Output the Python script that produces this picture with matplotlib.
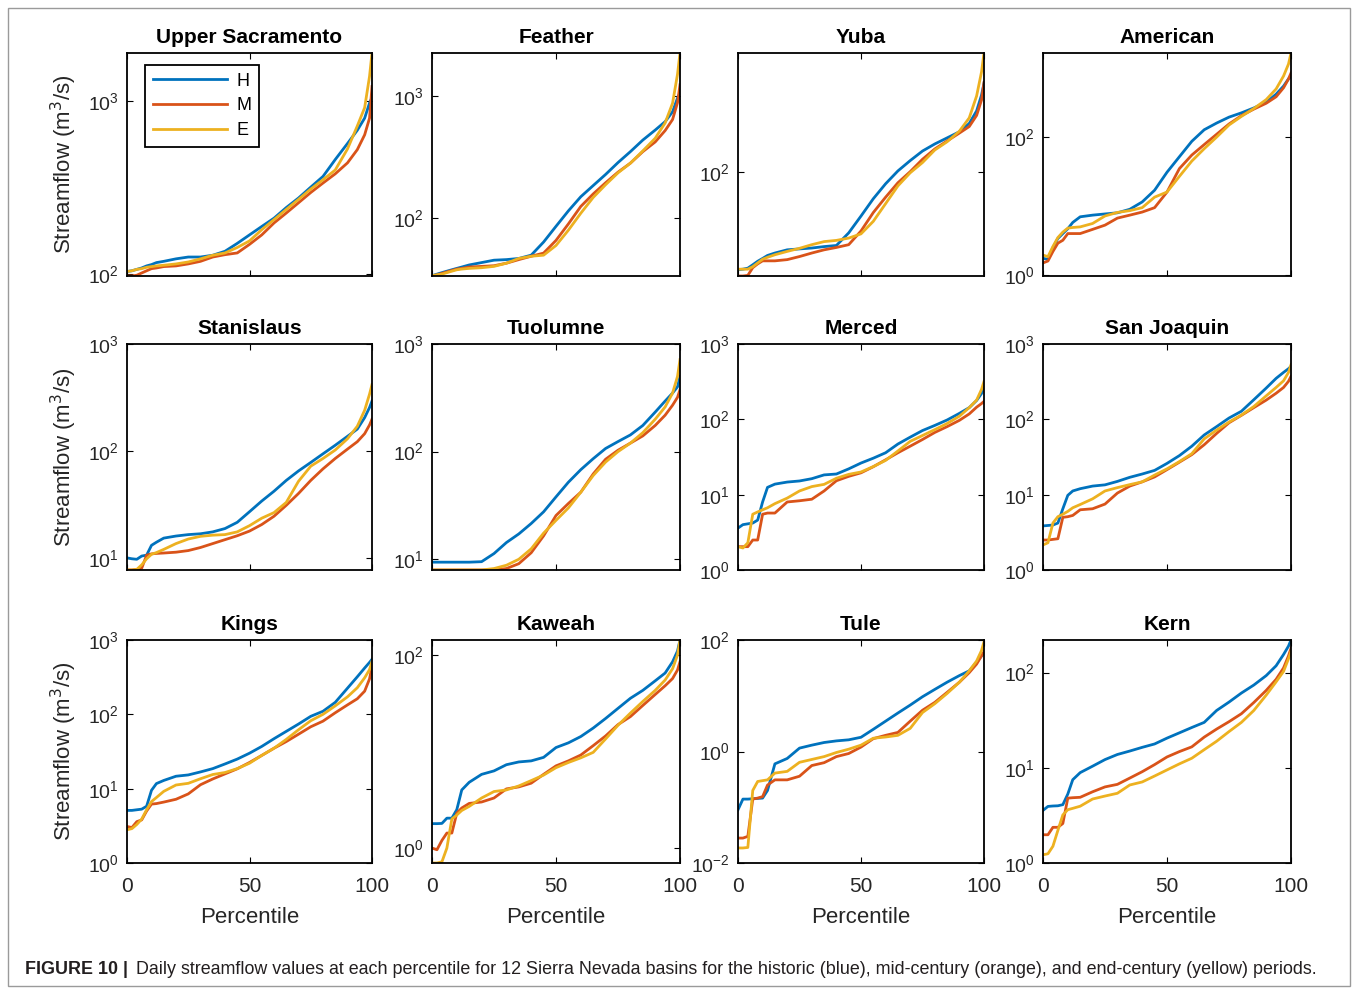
import numpy as np
import matplotlib
matplotlib.use("Agg")
from matplotlib import pyplot as plt
from matplotlib.patches import Rectangle
from matplotlib.ticker import FixedLocator, FuncFormatter, NullLocator

plt.rcParams['font.family'] = ['Liberation Sans', 'DejaVu Sans']

# percentile grid shared by all curves
pct = [0, 2, 4, 6, 8, 10, 12, 15, 20, 25, 30, 35, 40, 45, 50, 55, 60, 65, 70, 75, 80, 85, 90, 94, 97, 99, 100]

basins = ['Upper Sacramento', 'Feather', 'Yuba', 'American',
          'Stanislaus', 'Tuolumne', 'Merced', 'San Joaquin',
          'Kings', 'Kaweah', 'Tule', 'Kern']

# streamflow (m3/s) at each percentile, H = historic, M = mid-century, E = end-century
upper_sac_h = [103, 104, 106, 108, 111, 113, 116, 118, 122, 125, 125, 128, 135, 150, 168, 188, 210, 242, 275, 318, 367, 460, 570, 680, 800, 980, 1050]
upper_sac_m = [97, 97, 98, 101, 104, 107, 108, 110, 111, 114, 118, 125, 129, 132, 148, 168, 197, 225, 258, 296, 336, 380, 440, 525, 640, 800, 1220]
upper_sac_e = [103, 104, 106, 107, 109, 110, 111, 112, 114, 117, 122, 128, 132, 142, 155, 180, 206, 236, 270, 310, 351, 400, 530, 720, 920, 1400, 1910]

feather_h = [34, 35, 36, 37, 38, 39, 40, 41.6, 43.5, 45.5, 46, 47, 50, 64, 86, 115, 150, 185, 228, 285, 350, 435, 525, 615, 740, 960, 1050]
feather_m = [34, 34.5, 35.5, 36.5, 37.5, 38.5, 39, 40, 40.5, 41, 43, 46, 49, 52, 66, 90, 125, 158, 195, 238, 282, 350, 420, 520, 640, 880, 1230]
feather_e = [34, 34.5, 35, 36, 37, 38, 38.5, 39, 39.5, 40.5, 43, 47, 49, 50, 60, 80, 110, 148, 188, 235, 282, 355, 450, 600, 870, 1500, 2235]

yuba_h = [7.0, 7.1, 7.3, 8.0, 8.8, 9.5, 10.3, 11.0, 12.0, 12.3, 12.6, 13.1, 13.5, 19, 30, 48, 72, 102, 135, 175, 212, 250, 295, 370, 520, 800, 1100]
yuba_m = [5.9, 5.9, 6.0, 7.4, 8.2, 8.9, 8.9, 8.9, 9.2, 10.0, 11.0, 12.0, 12.8, 13.8, 20, 33, 50, 74, 100, 140, 185, 230, 285, 340, 460, 700, 1120]
yuba_e = [7.1, 7.1, 7.1, 7.6, 8.4, 9.3, 9.8, 10.5, 11.5, 12.5, 13.8, 15.0, 15.5, 16.5, 18.5, 26, 42, 68, 97, 128, 180, 225, 300, 430, 780, 1500, 2500]

american_h = [1.75, 1.69, 2.5, 3.4, 4.0, 4.7, 5.8, 7.0, 7.4, 7.7, 8.0, 9.0, 11.5, 17, 31, 52, 87, 128, 160, 195, 225, 265, 320, 420, 550, 700, 760]
american_m = [1.5, 1.6, 2.2, 2.9, 3.2, 4.0, 4.0, 4.0, 4.6, 5.3, 6.7, 7.4, 8.2, 9.5, 16, 35, 55, 78, 110, 155, 205, 255, 310, 385, 520, 700, 850]
american_e = [1.95, 1.85, 2.6, 3.5, 4.2, 4.8, 4.9, 5.0, 5.6, 7.2, 8.1, 8.6, 9.5, 13.5, 16, 27, 45, 68, 100, 150, 200, 260, 350, 500, 770, 1150, 1660]

stanislaus_h = [10, 9.8, 9.7, 10.4, 10.6, 13.1, 14.0, 15.3, 16.0, 16.5, 16.8, 17.5, 18.8, 21.5, 27, 34, 42, 53, 65, 78, 94, 113, 137, 160, 205, 255, 293]
stanislaus_m = [7.7, 7.7, 7.8, 8.0, 10.6, 10.9, 11.0, 11.1, 11.3, 11.7, 12.5, 13.6, 14.8, 16.1, 17.8, 20.5, 24.5, 31, 40, 53, 68, 85, 104, 122, 145, 175, 198]
stanislaus_e = [7.7, 7.7, 7.8, 8.6, 9.8, 10.8, 11.2, 12.0, 13.6, 15.0, 15.9, 16.3, 16.5, 17.5, 20, 23.5, 26.5, 33, 52, 72, 85, 102, 130, 170, 240, 340, 418]

tuolumne_h = [9.4, 9.4, 9.4, 9.4, 9.4, 9.4, 9.4, 9.4, 9.5, 11.3, 14.3, 17.2, 21.5, 27.6, 38, 52, 68, 86, 107, 124, 143, 175, 233, 295, 350, 400, 500]
tuolumne_m = [7.95, 7.95, 7.95, 7.95, 7.95, 7.95, 7.95, 7.95, 7.95, 7.95, 8.2, 9.1, 11.5, 16.5, 25.5, 33, 42, 62, 85, 103, 120, 140, 175, 218, 270, 320, 376]
tuolumne_e = [7.95, 7.95, 7.95, 7.95, 7.95, 7.95, 7.95, 7.95, 7.95, 8.2, 8.8, 10.0, 12.5, 17.5, 23, 30, 42, 60, 80, 100, 120, 150, 200, 260, 350, 500, 716]

merced_h = [3.6, 4.0, 4.1, 4.2, 4.6, 8.0, 12.5, 13.8, 14.7, 15.2, 16.3, 18.3, 18.8, 22, 26.3, 30.5, 36, 47, 58, 71, 83, 98, 120, 143, 178, 220, 260]
merced_m = [2.04, 2.04, 2.04, 2.5, 2.5, 5.5, 5.7, 5.7, 8.0, 8.3, 8.7, 11.2, 15.3, 17.5, 19.5, 23.5, 29, 36, 44, 54, 67, 80, 97, 118, 145, 162, 173]
merced_e = [2.04, 1.96, 2.3, 5.5, 5.9, 6.3, 6.7, 7.6, 9.0, 11.2, 12.8, 13.7, 16.5, 18.6, 20, 23.6, 28.5, 38, 51, 61, 73, 88, 110, 143, 180, 250, 318]

san_joaquin_h = [3.85, 3.9, 3.95, 4.2, 6.5, 9.8, 11.2, 12.0, 13.0, 13.5, 15.0, 17.0, 18.8, 21, 26, 33, 44, 62, 80, 104, 128, 182, 260, 350, 420, 470, 505]
san_joaquin_m = [2.5, 2.5, 2.55, 2.6, 5.0, 5.1, 5.3, 6.3, 6.5, 7.5, 10.5, 13, 14.8, 17.2, 21.5, 27, 34, 46, 65, 90, 113, 143, 180, 222, 265, 320, 372]
san_joaquin_e = [2.15, 2.3, 4.2, 5.1, 5.5, 6.0, 6.7, 7.4, 8.8, 11.2, 12.4, 13.6, 14.8, 18.2, 22, 27.5, 35, 55, 72, 92, 114, 148, 205, 265, 325, 420, 530]

kings_h = [5.1, 5.1, 5.2, 5.3, 5.8, 9.5, 11.7, 12.9, 14.7, 15.3, 16.8, 18.6, 21.5, 25, 30, 37, 47, 59, 74, 94, 110, 145, 225, 320, 420, 500, 550]
kings_m = [3.1, 3.0, 3.6, 3.8, 5.0, 6.2, 6.3, 6.6, 7.2, 8.5, 11.3, 13.5, 15.8, 18.5, 22.5, 28, 35, 43, 54, 68, 81, 105, 134, 162, 205, 300, 440]
kings_e = [2.8, 2.9, 3.3, 3.9, 5.2, 6.7, 7.6, 9.2, 11.2, 11.8, 13.6, 15.5, 16.5, 18.6, 22, 28, 35, 46, 62, 82, 100, 130, 172, 228, 310, 400, 515]

kaweah_h = [1.79, 1.79, 1.8, 2.04, 2.04, 2.5, 4.0, 4.8, 5.8, 6.3, 7.3, 7.8, 8.0, 8.7, 11.0, 12.3, 14.3, 17.5, 22, 28, 35.6, 43, 54, 65, 85, 110, 143]
kaweah_m = [1.0, 0.96, 1.2, 1.43, 1.43, 2.3, 2.6, 2.9, 3.0, 3.3, 4.1, 4.3, 4.7, 5.8, 7.1, 8.0, 9.2, 11.5, 14.5, 19, 23, 30, 39, 48, 57, 70, 85]
kaweah_e = [0.70, 0.70, 0.72, 1.0, 2.0, 2.2, 2.45, 2.7, 3.3, 3.85, 4.0, 4.4, 5.0, 5.7, 6.8, 7.7, 8.6, 9.8, 13.5, 18.7, 25, 33, 43, 55, 72, 100, 143]

tule_h = [0.09, 0.14, 0.14, 0.142, 0.144, 0.146, 0.2, 0.6, 0.75, 1.15, 1.3, 1.45, 1.55, 1.62, 1.8, 2.5, 3.5, 4.9, 6.8, 9.6, 13, 17.5, 23, 28, 40, 52, 58]
tule_m = [0.028, 0.028, 0.03, 0.14, 0.146, 0.155, 0.25, 0.31, 0.31, 0.36, 0.56, 0.63, 0.81, 0.92, 1.2, 1.7, 1.95, 2.2, 3.5, 5.5, 7.6, 11.5, 17.5, 26, 37, 52, 62]
tule_e = [0.0186, 0.0186, 0.019, 0.2, 0.29, 0.30, 0.31, 0.41, 0.44, 0.64, 0.72, 0.81, 0.96, 1.1, 1.3, 1.73, 1.82, 1.95, 2.6, 5.0, 7.2, 11, 17.5, 28, 42, 65, 93]

kern_h = [3.57, 3.93, 3.97, 3.99, 4.1, 5.3, 7.5, 8.9, 10.4, 12.2, 13.8, 15.0, 16.4, 17.8, 20.5, 23.3, 26.5, 30, 40, 49, 61, 74, 93, 118, 155, 190, 220]
kern_m = [1.98, 1.98, 2.37, 2.37, 2.6, 4.8, 4.85, 4.9, 5.6, 6.3, 6.7, 7.8, 9.1, 10.8, 13, 14.8, 16.6, 21, 25.5, 30.5, 37, 48.5, 65, 85, 112, 150, 180]
kern_e = [1.22, 1.25, 1.5, 2.2, 3.2, 3.63, 3.75, 3.95, 4.7, 5.05, 5.4, 6.6, 7.1, 8.2, 9.5, 11, 12.6, 15.5, 19, 24, 30, 40, 58, 80, 103, 140, 166]

series = [
    (upper_sac_h, upper_sac_m, upper_sac_e),
    (feather_h, feather_m, feather_e),
    (yuba_h, yuba_m, yuba_e),
    (american_h, american_m, american_e),
    (stanislaus_h, stanislaus_m, stanislaus_e),
    (tuolumne_h, tuolumne_m, tuolumne_e),
    (merced_h, merced_m, merced_e),
    (san_joaquin_h, san_joaquin_m, san_joaquin_e),
    (kings_h, kings_m, kings_e),
    (kaweah_h, kaweah_m, kaweah_e),
    (tule_h, tule_m, tule_e),
    (kern_h, kern_m, kern_e),
]

# y limits and decade ticks (exponents) as shown in each panel
ylims = [(97, 1910), (33.8, 2235), (5.9, 2500), (0.97, 1660),
         (7.7, 1000), (7.95, 1000), (1, 1000), (1, 1000),
         (1, 1000), (0.70, 143), (0.01, 100), (1, 220)]
yticks = [[2, 3], [2, 3], [2], [0, 2],
          [1, 2, 3], [1, 2, 3], [0, 1, 2, 3], [0, 1, 2, 3],
          [0, 1, 2, 3], [0, 2], [-2, 0, 2], [0, 1, 2]]

labels = ['H', 'M', 'E']
colors = ['#0072BD', '#D95319', '#EDB120']
tick_color = '#262626'

fig = plt.figure(figsize=(13.58, 9.9), dpi=100)
W, H = 1358, 990

col_left = [127, 432, 738, 1043]
col_right = [372, 680, 984, 1291]
row_top = [53, 344, 640]
row_bottom = [276, 570, 863]


def sci(v, pos):
    e = int(round(np.log10(v)))
    return r'$\mathdefault{10^{%d}}$' % e


for k, name in enumerate(basins):
    r, c = divmod(k, 4)
    x0 = col_left[c] / W
    y0 = (H - row_bottom[r]) / H
    ax = fig.add_axes([x0, y0, (col_right[c] - col_left[c]) / W,
                       (row_bottom[r] - row_top[r]) / H])
    for vals, lab, col in zip(series[k], labels, colors):
        ax.plot(pct, vals, color=col, lw=2.0, label=lab)
    ax.set_yscale('log')
    ax.set_xlim(0, 100)
    ax.set_ylim(*ylims[k])
    ax.yaxis.set_major_locator(FixedLocator([10.0 ** e for e in yticks[k]]))
    ax.yaxis.set_minor_locator(NullLocator())
    ax.yaxis.set_major_formatter(FuncFormatter(sci))
    ax.set_xticks([0, 50, 100])
    ax.tick_params(direction='in', length=4, width=0.8, top=True, right=True,
                   labelsize=14, colors='black', labelcolor=tick_color, pad=6)
    ax.tick_params(axis='x', labelsize=15, pad=10)
    for s in ax.spines.values():
        s.set_linewidth(1.3)
    ax.set_title(name, fontsize=15, fontweight='bold', pad=7)
    if r < 2:
        ax.set_xticklabels([])
    else:
        ax.set_xlabel('Percentile', fontsize=16, color=tick_color, labelpad=8)
    if c == 0:
        ax.set_ylabel('Streamflow (m$^3$/s)', fontsize=16, color=tick_color, labelpad=6)
    if k == 0:
        leg = ax.legend(loc='upper left', bbox_to_anchor=(0.073, 0.948), fontsize=13,
                        handlelength=4.1, handletextpad=0.5, borderpad=0.45,
                        labelspacing=0.42, borderaxespad=0, fancybox=False,
                        framealpha=1)
        leg.get_frame().set_edgecolor('black')
        leg.get_frame().set_linewidth(1.3)

# outer frame of the figure panel
fig.patches.append(Rectangle((8 / W, 4 / H), (1350 - 8) / W, (982 - 4) / H,
                             transform=fig.transFigure, fill=False,
                             edgecolor='#9a9a9a', linewidth=1.0))

fig.text(25 / W, (H - 970) / H, 'FIGURE 10 |', fontsize=12.9, fontweight='bold',
         color='#231f20', va='center', ha='left')
fig.text(136 / W, (H - 970) / H,
         'Daily streamflow values at each percentile for 12 Sierra Nevada basins for the historic (blue), '
         'mid-century (orange), and end-century (yellow) periods.',
         fontsize=12.9, color='#231f20', va='center', ha='left')

fig.savefig('out.png', dpi=100)
